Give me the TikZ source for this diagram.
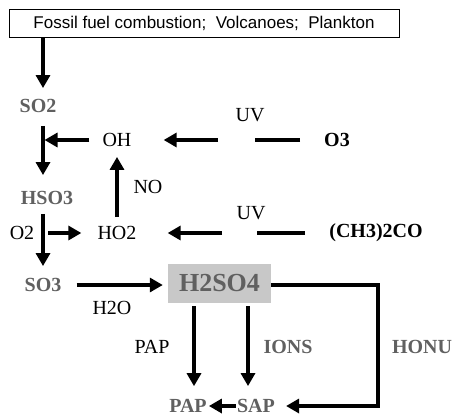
\documentclass[tikz,border=0pt]{standalone}
\usepackage{fontspec}
\setmainfont{Liberation Serif}
\newfontfamily\arialfont{Liberation Sans}
\usetikzlibrary{arrows.meta, positioning, calc}
\definecolor{sulfgray}{RGB}{96,96,96}
\definecolor{boxgray}{RGB}{200,200,200}

\begin{document}
\begin{tikzpicture}[
    x=1pt, y=-1pt,
    srcbox/.style={rectangle, draw, line width=0.8pt, minimum width=390pt, minimum height=28pt, inner sep=0pt, font=\arialfont\fontsize{17}{19}\selectfont},
    chem/.style={inner sep=1pt, font=\fontsize{20}{22}\selectfont},
    gchem/.style={inner sep=1pt, text=sulfgray, font=\bfseries\fontsize{20}{22}\selectfont},
    bchem/.style={inner sep=1pt, font=\bfseries\fontsize{20}{22}\selectfont},
    acidbox/.style={rectangle, fill=boxgray, text=sulfgray, minimum width=103pt, minimum height=39pt, inner sep=0pt, font=\bfseries\fontsize{26}{28}\selectfont},
    arrow/.style={-{Triangle[length=13pt, width=14pt]}, line width=3.2pt},
    link/.style={line width=3.2pt}
]
    \useasboundingbox (0,0) rectangle (457,418);

    % Source
    \node[srcbox] (src) at (204,23) {Fossil fuel combustion;\ \ Volcanoes;\ \ Plankton};

    % Left column
    \node[gchem] (so2) at (38,106) {SO2};
    \node[gchem] (hso3) at (47,198) {HSO3};
    \node[gchem] (so3) at (43,285) {SO3};
    \node[chem] (o2) at (22,233) {O2};

    % Radicals
    \node[chem] (oh) at (117,140) {OH};
    \node[chem] (ho2) at (117,233) {HO2};
    \node[chem] (no) at (148,187) {NO};
    \node[bchem] (o3) at (337,140) {O3};
    \node[bchem] (acetone) at (376,233) {(CH3)2CO};
    \node[chem] (uva) at (250,115) {UV};
    \node[chem] (uvb) at (251,213) {UV};

    % Acid and products
    \node[acidbox] (acid) at (219.5,283.5) {H2SO4};
    \node[chem] (h2o) at (112,308) {H2O};
    \node[chem] (papl) at (152,347) {PAP};
    \node[gchem] (ions) at (288,347) {IONS};
    \node[gchem] (honu) at (422,347) {HONU};
    \node[gchem] (pap) at (188,406) {PAP};
    \node[gchem] (sap) at (256,406) {SAP};

    % Helper points
    \coordinate (trunk) at (43,0);
    \coordinate (gapa) at (218,140);
    \coordinate (gapb) at (255,140);
    \coordinate (gapc) at (222,233);
    \coordinate (gapd) at (257,233);
    \coordinate (colp) at (194,0);
    \coordinate (cols) at (248,0);
    \coordinate (turn) at (378,0);

    % Connections
    \draw[arrow, shorten >=10pt] (src.south -| trunk) -- (trunk |- so2.north);
    \draw[arrow, shorten <=12pt, shorten >=15pt] (trunk |- so2.south) -- (trunk |- hso3.north);
    \draw[arrow, shorten <=12pt, shorten >=1.5pt] (oh.west) -- (trunk |- oh.west);
    \draw[link, shorten <=23pt] (o3.west) -- (gapb);
    \draw[arrow] (gapa) -- ($(oh.east)+(31,0)$);
    \draw[arrow, shorten <=8pt, shorten >=9pt] (ho2.north) -- (oh.south);
    \draw[arrow, shorten <=8pt, shorten >=11pt] (trunk |- hso3.south) -- (trunk |- so3.north);
    \draw[arrow, shorten <=5pt, shorten >=15pt] (trunk |- ho2.west) -- (ho2.west);
    \draw[link, shorten <=23pt] (acetone.west) -- (gapd);
    \draw[arrow] (gapc) -- ($(ho2.east)+(30,0)$);
    \draw[arrow, shorten <=14pt, shorten >=5pt] (so3.east) -- (so3.east -| acid.west);
    \draw[arrow, shorten <=3pt, shorten >=12pt] (colp |- acid.south) -- (colp |- pap.north);
    \draw[arrow, shorten <=3pt, shorten >=12pt] (cols |- acid.south) -- (cols |- sap.north);
    \draw[arrow, shorten >=10pt] (acid.east |- so3) -- (turn |- so3) -- (turn |- sap.east) -- (sap.east);
    \draw[arrow, shorten >=1pt] (sap.west) -- (pap.east);
\end{tikzpicture}
\end{document}
